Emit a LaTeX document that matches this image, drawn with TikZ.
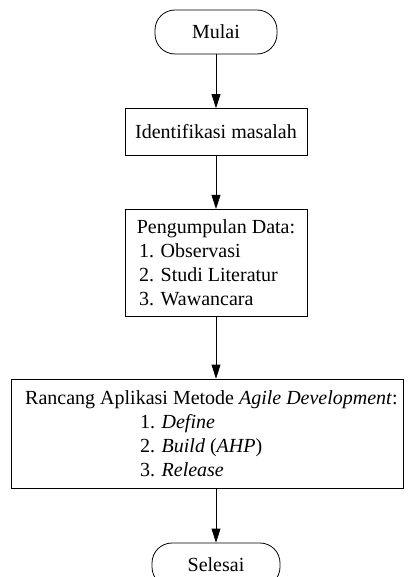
\documentclass[tikz,border=0pt]{standalone}
\usepackage{fontspec}
\setmainfont{Liberation Serif}
\usetikzlibrary{arrows.meta}

\begin{document}
\begin{tikzpicture}[x=0.5pt,y=0.5pt,
  terminal/.style={draw,rectangle,rounded corners=10pt,minimum width=61pt,minimum height=22pt,inner sep=0pt},
  process/.style={draw,rectangle,inner sep=0pt,align=center},
  flow/.style={-{Triangle[length=7pt,width=4.5pt]}}]
  \useasboundingbox (0,0) rectangle (410,-577);
  % start and first steps
  \node[terminal] (mulai) at (216,-32) {Mulai};
  \node[process,minimum width=91pt,minimum height=23.5pt] (identifikasi) at (216,-132) {Identifikasi masalah};
  \node[process,minimum width=91pt,minimum height=53.75pt] (pengumpulan) at (216,-263)
    {Pengumpulan Data:\\ \makebox[77pt][l]{1. Observasi}\\ \makebox[77pt][l]{2. Studi Literatur}\\ \makebox[77pt][l]{3. Wawancara}};
  % design step and end
  \node[process,minimum width=196pt,minimum height=54.5pt] (rancang) at (207,-433.5)
    {\hspace*{4.5pt}Rancang Aplikasi Metode \textit{Agile Development}:\\ \makebox[67pt][l]{1. \textit{Define}}\\ \makebox[67pt][l]{2. \textit{Build} (\textit{AHP})}\\ \makebox[67pt][l]{3. \textit{Release}}};
  \node[terminal,minimum width=64pt] (selesai) at (216,-565) {Selesai};
  % connectors
  \draw[flow] (mulai) -- (identifikasi);
  \draw[flow] (identifikasi) -- (pengumpulan);
  \draw[flow] (pengumpulan) -- (pengumpulan |- rancang.north);
  \draw[flow] (rancang.south -| selesai) -- (selesai);
\end{tikzpicture}
\end{document}
